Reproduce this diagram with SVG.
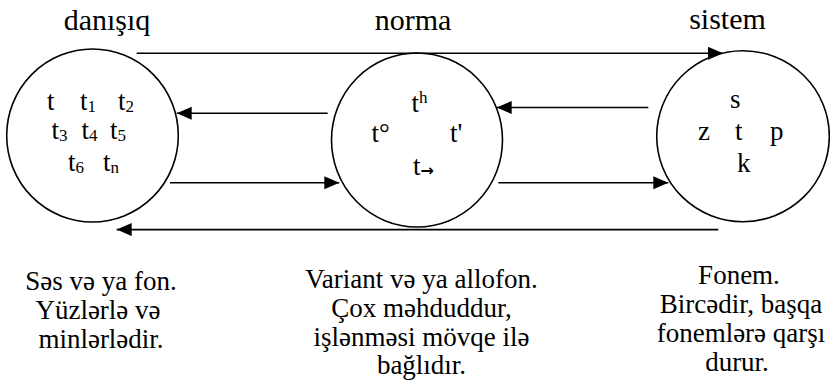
<svg xmlns="http://www.w3.org/2000/svg" width="830" height="387" viewBox="0 0 830 387">
<style>
  text { font-family: 'Liberation Serif', 'Times New Roman', serif; fill: #000; }
  .title { font-size: 30px; text-anchor: middle; }
  .l { font-size: 27px; }
  .sub { font-size: 17px; }
  .sup { font-size: 17px; }
  .desc { font-size: 27px; text-anchor: middle; }
  .node { fill: #fff; stroke: #000; stroke-width: 1.6; }
  .edge { stroke: #000; stroke-width: 1.6; fill: none; }
  .arr { font-family: 'DejaVu Sans', sans-serif; font-weight: bold; font-size: 16px; }
</style>
<defs>
  <marker id="ah" markerUnits="userSpaceOnUse" markerWidth="16" markerHeight="14" refX="15" refY="6.5" orient="auto">
    <path d="M0,0 L15,6.5 L0,13 z" fill="#000"/>
  </marker>
</defs>
<rect width="830" height="387" fill="#fff"/>

<g id="node-danisiq">
  <ellipse class="node" cx="92.5" cy="135.5" rx="85.8" ry="86.5"/>
  <text class="title" x="107" y="29.5">danışıq</text>
  <text class="l" x="47" y="110">t</text>
  <text class="l" x="80" y="110">t<tspan class="sub" dy="2">1</tspan></text>
  <text class="l" x="118" y="110">t<tspan class="sub" dy="2">2</tspan></text>
  <text class="l" x="51.5" y="139">t<tspan class="sub" dy="2">3</tspan></text>
  <text class="l" x="81.5" y="139">t<tspan class="sub" dy="2">4</tspan></text>
  <text class="l" x="110" y="139">t<tspan class="sub" dy="2">5</tspan></text>
  <text class="l" x="68" y="170.5">t<tspan class="sub" dy="2">6</tspan></text>
  <text class="l" x="103" y="170.5">t<tspan class="sub" dy="2">n</tspan></text>
  <text class="desc" x="101" y="290">Səs və ya fon.</text>
  <text class="desc" x="98" y="319">Yüzlərlə və</text>
  <text class="desc" x="101" y="348">minlərlədir.</text>
</g>

<g id="node-norma">
  <ellipse class="node" cx="417" cy="140" rx="85.5" ry="87"/>
  <text class="title" x="413" y="29.5">norma</text>
  <text class="l" x="411.5" y="111.7">t<tspan class="sup" dy="-8.4">h</tspan></text>
  <text class="l" x="371.5" y="141.7">t°</text>
  <text class="l" x="450" y="141.7">t'</text>
  <text class="l" x="413" y="174.5">t<tspan class="arr" dy="1.5">→</tspan></text>
  <text class="desc" x="421.5" y="288">Variant və ya allofon.</text>
  <text class="desc" x="421.5" y="317">Çox məhduddur,</text>
  <text class="desc" x="421.5" y="345.5">işlənməsi mövqe ilə</text>
  <text class="desc" x="421.5" y="374">bağlıdır.</text>
</g>

<g id="node-sistem">
  <ellipse class="node" cx="743" cy="136.2" rx="86.3" ry="85.5"/>
  <text class="title" x="727.5" y="29">sistem</text>
  <text class="l" x="730" y="108.3">s</text>
  <text class="l" x="698" y="140">z</text>
  <text class="l" x="735" y="140">t</text>
  <text class="l" x="770" y="140">p</text>
  <text class="l" x="737" y="171.7">k</text>
  <text class="desc" x="739" y="283.5">Fonem.</text>
  <text class="desc" x="741" y="313">Bircədir, başqa</text>
  <text class="desc" x="741" y="342">fonemlərə qarşı</text>
  <text class="desc" x="737" y="371">durur.</text>
</g>

<g id="connectors">
  <line class="edge" x1="136.7" y1="53.3" x2="723" y2="53.3" marker-end="url(#ah)"/>
  <line class="edge" x1="327.7" y1="113.3" x2="176.7" y2="113.3" marker-end="url(#ah)"/>
  <line class="edge" x1="648.3" y1="107.5" x2="496.7" y2="107.5" marker-end="url(#ah)"/>
  <line class="edge" x1="170" y1="182.7" x2="339.3" y2="182.7" marker-end="url(#ah)"/>
  <line class="edge" x1="498.3" y1="182.7" x2="668.3" y2="182.7" marker-end="url(#ah)"/>
  <line class="edge" x1="718.3" y1="229.6" x2="116.7" y2="229.6" marker-end="url(#ah)"/>
</g>
</svg>
